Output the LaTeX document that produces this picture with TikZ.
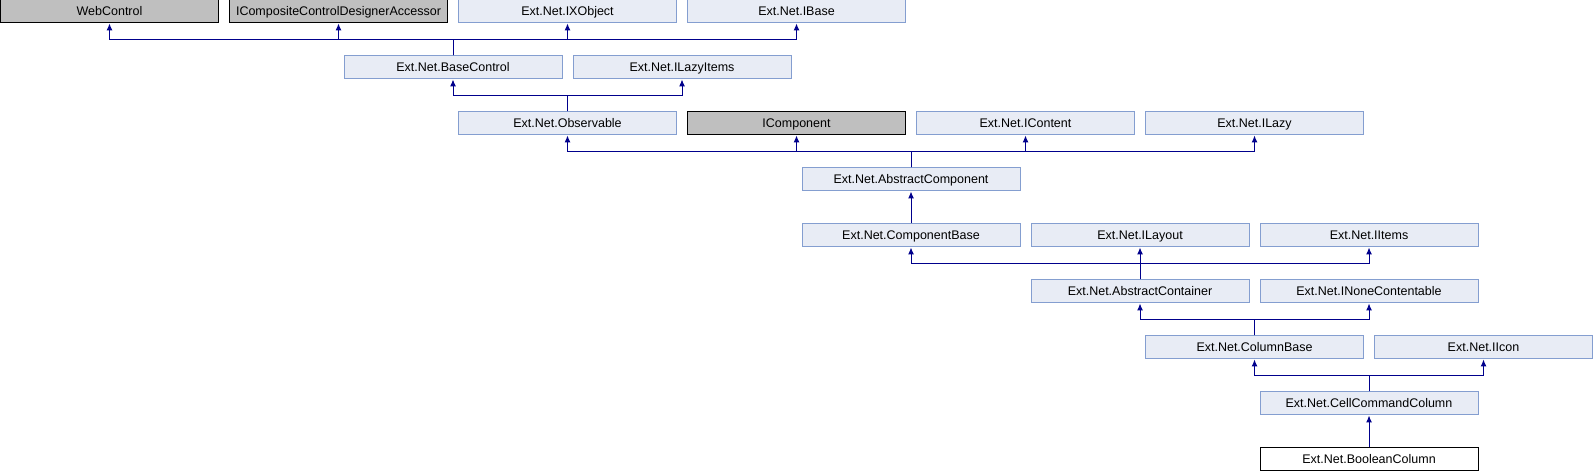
\documentclass[tikz,border=0pt]{standalone}
\usepackage{fontspec}
\setmainfont{Liberation Sans}
\usetikzlibrary{arrows.meta}
\definecolor{cfill}{RGB}{232,236,245}
\definecolor{cborder}{RGB}{132,158,208}
\definecolor{gfill}{RGB}{191,191,191}
\definecolor{cline}{RGB}{0,0,140}
\tikzset{
  cls/.style={draw=cborder, fill=cfill, line width=1bp, minimum width=218bp, minimum height=23bp, inner sep=0pt, text height=9bp, text depth=0.5bp, font=\fontsize{12.5bp}{14bp}\selectfont},
  ext/.style={cls, draw=black, fill=gfill},
  cur/.style={cls, draw=black, fill=white},
  inh/.style={draw=cline, line width=1bp, -{Latex[length=7bp,width=6bp]}},
}
\begin{document}
\begin{tikzpicture}[x=1bp,y=1bp]
\useasboundingbox (0,0) rectangle (1593,472);
% row 0
\node[ext] (WebControl) at (109.5,460.5) {WebControl};
\node[ext] (ICCDA) at (338.5,460.5) {ICompositeControlDesignerAccessor};
\node[cls] (IXObject) at (567.5,460.5) {Ext.Net.IXObject};
\node[cls] (IBase) at (796.5,460.5) {Ext.Net.IBase};
% row 1
\node[cls] (BaseControl) at (453,404.5) {Ext.Net.BaseControl};
\node[cls] (ILazyItems) at (682,404.5) {Ext.Net.ILazyItems};
% row 2
\node[cls] (Observable) at (567.5,348.5) {Ext.Net.Observable};
\node[ext] (IComponent) at (796.5,348.5) {IComponent};
\node[cls] (IContent) at (1025.5,348.5) {Ext.Net.IContent};
\node[cls] (ILazy) at (1254.5,348.5) {Ext.Net.ILazy};
% row 3
\node[cls] (AbstractComponent) at (911,292.5) {Ext.Net.AbstractComponent};
% row 4
\node[cls] (ComponentBase) at (911,236.5) {Ext.Net.ComponentBase};
\node[cls] (ILayout) at (1140,236.5) {Ext.Net.ILayout};
\node[cls] (IItems) at (1369,236.5) {Ext.Net.IItems};
% row 5
\node[cls] (AbstractContainer) at (1140,180.5) {Ext.Net.AbstractContainer};
\node[cls] (INoneContentable) at (1369,180.5) {Ext.Net.INoneContentable};
% row 6
\node[cls] (ColumnBase) at (1254.5,124.5) {Ext.Net.ColumnBase};
\node[cls] (IIcon) at (1483.5,124.5) {Ext.Net.IIcon};
% row 7
\node[cls] (CellCommandColumn) at (1369,68.5) {Ext.Net.CellCommandColumn};
% row 8
\node[cur] (BooleanColumn) at (1369,12.5) {Ext.Net.BooleanColumn};
% buses
\coordinate (b1) at (0,432);
\coordinate (b2) at (0,376);
\coordinate (b3) at (0,320);
\coordinate (b5) at (0,208);
\coordinate (b6) at (0,152);
\coordinate (b7) at (0,96);
% connectors
\foreach \p in {WebControl,ICCDA,IXObject,IBase}
  \draw[inh] (BaseControl.north) |- (b1 -| \p.south) -- (\p.south);
\foreach \p in {BaseControl,ILazyItems}
  \draw[inh] (Observable.north) |- (b2 -| \p.south) -- (\p.south);
\foreach \p in {Observable,IComponent,IContent,ILazy}
  \draw[inh] (AbstractComponent.north) |- (b3 -| \p.south) -- (\p.south);
\draw[inh] (ComponentBase.north) -- (AbstractComponent.south);
\foreach \p in {ComponentBase,ILayout,IItems}
  \draw[inh] (AbstractContainer.north) |- (b5 -| \p.south) -- (\p.south);
\foreach \p in {AbstractContainer,INoneContentable}
  \draw[inh] (ColumnBase.north) |- (b6 -| \p.south) -- (\p.south);
\foreach \p in {ColumnBase,IIcon}
  \draw[inh] (CellCommandColumn.north) |- (b7 -| \p.south) -- (\p.south);
\draw[inh] (BooleanColumn.north) -- (CellCommandColumn.south);
\end{tikzpicture}
\end{document}
